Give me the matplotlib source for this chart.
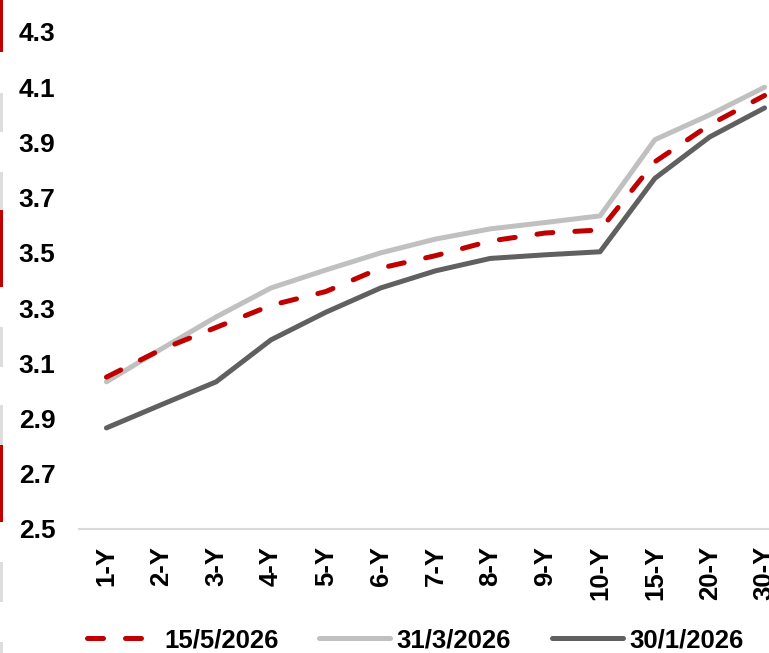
import matplotlib
matplotlib.use("Agg")
import matplotlib.pyplot as plt
from matplotlib.patches import Rectangle

# tenors and yield curves (%)
tenors = ["1-Y", "2-Y", "3-Y", "4-Y", "5-Y", "6-Y", "7-Y", "8-Y", "9-Y",
          "10-Y", "15-Y", "20-Y", "30-Y"]
curve_may = [3.05, 3.15, 3.23, 3.31, 3.36, 3.445, 3.49, 3.543, 3.572, 3.583, 3.83, 3.964, 4.07]
curve_mar = [3.033, 3.152, 3.268, 3.373, 3.438, 3.50, 3.55, 3.587, 3.61, 3.634, 3.91, 4.0, 4.10]
curve_jan = [2.866, 2.95, 3.033, 3.185, 3.285, 3.373, 3.435, 3.48, 3.493, 3.504, 3.77, 3.92, 4.025]
series_labels = ["15/5/2026", "31/3/2026", "30/1/2026"]
yticks = [2.5, 2.7, 2.9, 3.1, 3.3, 3.5, 3.7, 3.9, 4.1, 4.3]

RED = "#C00000"
LIGHT = "#C0C0C0"
DARK = "#606060"

plt.rcParams["font.family"] = ["Liberation Sans", "DejaVu Sans"]
plt.rcParams["font.weight"] = "bold"

fig = plt.figure(figsize=(7.69, 6.53), dpi=100)
ax = fig.add_axes([79 / 769, 124 / 653, 713 / 769, 497 / 653])

x = list(range(len(tenors)))
ax.plot(x, curve_may, color=RED, lw=3.6, dashes=(3.2, 4.4),
        dash_capstyle="round", label=series_labels[0], zorder=3)
ax.plot(x, curve_mar, color=LIGHT, lw=3.6, solid_capstyle="round",
        label=series_labels[1], zorder=2)
ax.plot(x, curve_jan, color=DARK, lw=3.6, solid_capstyle="round",
        label=series_labels[2], zorder=2)

ax.set_xlim(-0.5, len(tenors) - 0.5)
ax.set_ylim(2.5, 4.3)
ax.set_yticks(yticks)
ax.set_yticklabels([f"{v:.1f}" for v in yticks], fontsize=19, fontweight="bold")
ax.set_xticks(x)
ax.set_xticklabels(tenors, rotation=90, fontsize=18.5, fontweight="bold")
ax.tick_params(axis="both", length=0)
ax.tick_params(axis="y", pad=17)
ax.tick_params(axis="x", pad=12)

for side in ["top", "right", "left"]:
    ax.spines[side].set_visible(False)
ax.spines["bottom"].set_color("#D9D9D9")
ax.spines["bottom"].set_linewidth(1.5)

leg = fig.legend(loc="center left", bbox_to_anchor=(74 / 769, 13 / 653), ncol=3,
                 frameon=False, fontsize=18.5, handlelength=2.75, borderpad=0,
                 columnspacing=1.6, handletextpad=0.25)
for t in leg.get_texts():
    t.set_fontweight("bold")

# thin margin markers on the left edge
red_marks = [(0, 52), (210, 287), (445, 522)]
grey_marks = [(93, 132), (172, 210), (327, 367), (405, 445), (562, 602), (642, 653)]
for y0, y1 in red_marks:
    fig.patches.append(Rectangle((0, 1 - y1 / 653), 3 / 769, (y1 - y0) / 653,
                                 transform=fig.transFigure, color=RED, lw=0))
for y0, y1 in grey_marks:
    fig.patches.append(Rectangle((0, 1 - y1 / 653), 3 / 769, (y1 - y0) / 653,
                                 transform=fig.transFigure, color="#DDDDDD", lw=0))

fig.savefig("out.png", dpi=100)
